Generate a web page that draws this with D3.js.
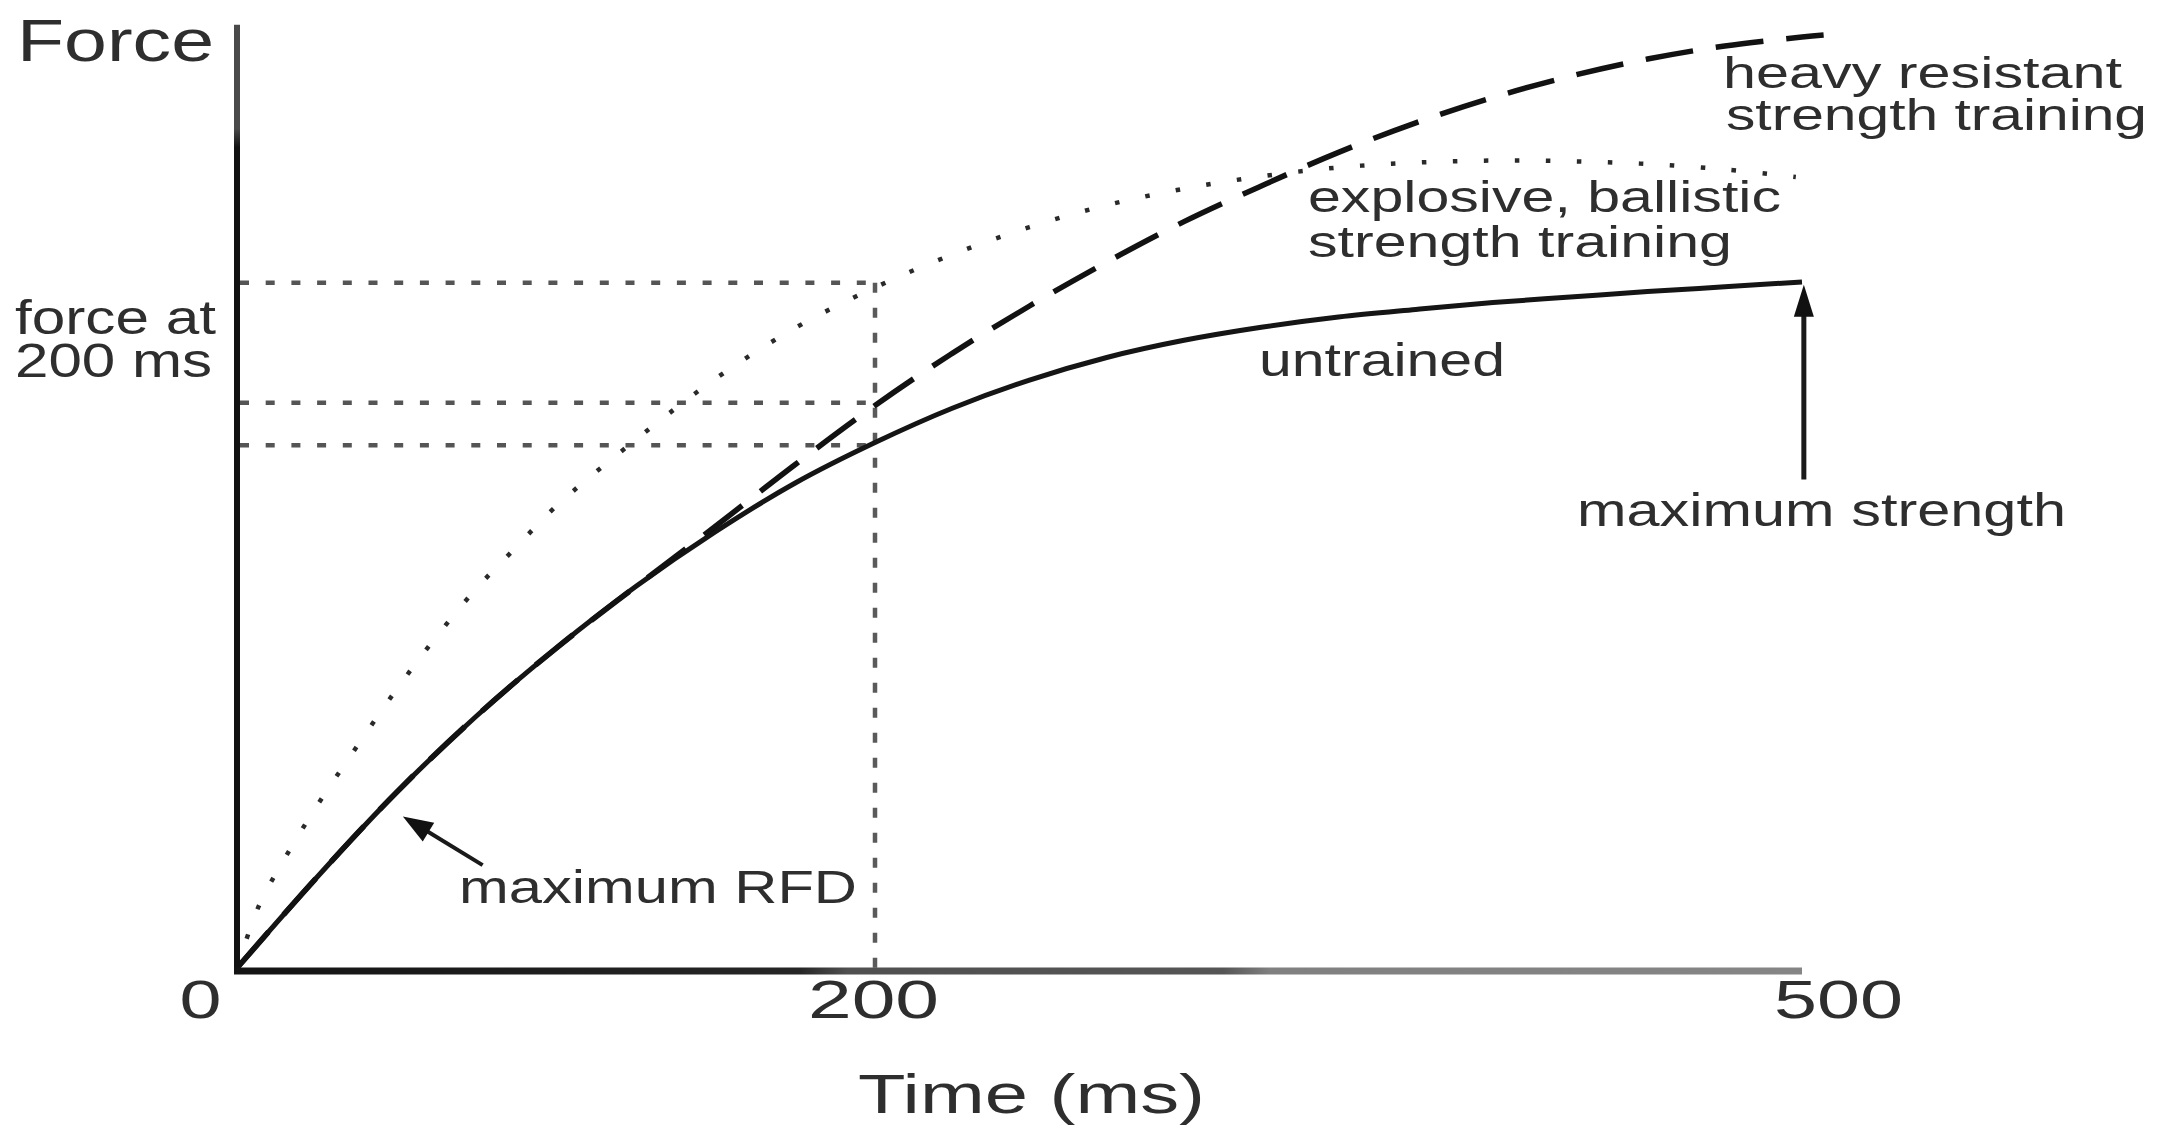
<!DOCTYPE html>
<html><head><meta charset="utf-8">
<script src="https://cdn.jsdelivr.net/npm/d3@7"></script>
<style>html,body{margin:0;padding:0;background:#fff;overflow:hidden}</style>
</head><body>
<svg id="chart"></svg>
<script>
// ---------- data (time in ms, force in % of untrained maximum strength) ----------
const untrainedT = [0, 25, 50, 75, 100, 125, 150, 175, 200, 225, 250, 275, 300, 325, 350, 375, 400, 425, 450, 475, 500];
const untrainedF = [0, 13.2, 25.6, 36.7, 46.6, 55.6, 63.6, 70.7, 76.6, 81.6, 85.7, 89.0, 91.5, 93.4, 94.9, 96.0, 97.0, 97.8, 98.6, 99.3, 100];

const ballisticT = [0, 7, 15, 25, 37, 50, 62, 75, 87, 100, 125, 150, 175, 200, 225, 250, 275, 300, 325, 350, 375, 400, 425, 450, 475, 498];
const ballisticF = [0, 9.2, 16.0, 23.6, 31.9, 40.6, 48.0, 55.3, 61.1, 67.3, 77.0, 85.9, 93.3, 99.2, 104.0, 108.0, 111.2, 113.6, 115.4, 116.7, 117.4, 117.7, 117.6, 117.2, 116.4, 115.3];

const heavyT = [0, 25, 50, 75, 100, 125, 150, 175, 200, 225, 250, 275, 300, 325, 350, 375, 400, 425, 450, 475, 500, 507];
const heavyF = [0, 13.2, 25.6, 36.7, 46.6, 55.6, 64.4, 73.4, 82.0, 89.6, 96.5, 102.9, 108.8, 114.0, 118.9, 123.2, 126.9, 130.0, 132.5, 134.4, 135.7, 136.0];

const xTicks = [0, 200, 500];
const xTickLabels = ["0", "200", "500"];
const refTime = 200;
const refForces = [99.9, 82.4, 76.2];   // force at 200 ms: ballistic, heavy, untrained
const yAxisMax = 137.5;

const seriesLabels = {
  heavy: ["heavy resistant", "strength training"],
  ballistic: ["explosive, ballistic", "strength training"],
  untrained: ["untrained"]
};
const annotationRFD = {text: "maximum RFD", tipT: 52, tipF: 22.1, tailT: 77, tailF: 15.0};
const annotationMax = {text: "maximum strength", tipT: 500.6, tipF: 99.6, tailT: 500.6, tailF: 71.2};
const yTitle = "Force";
const yRefLabel = ["force at", "200 ms"];
const xTitle = "Time (ms)";

// ---------- layout ----------
const W = 2164, H = 1131;
const svg = d3.select("#chart").attr("width", W).attr("height", H)
  .style("background", "#fff").style("display", "block");

const x = d3.scaleLinear().domain([0, 200, 500]).range([237, 875, 1802]);
const y = d3.scaleLinear().domain([0, 100]).range([968, 282]);

const FONT = "'Liberation Sans', Arial, Helvetica, sans-serif";
const TXT = "#2e2e2e";

const defs = svg.append("defs");
const gx = defs.append("linearGradient").attr("id", "xaxisGrad")
  .attr("gradientUnits", "userSpaceOnUse").attr("x1", x(0)).attr("x2", x(500)).attr("y1", 0).attr("y2", 0);
[[0, "#141414"], [0.36, "#262626"], [0.39, "#505050"], [0.63, "#555"], [0.66, "#808080"], [1, "#858585"]]
  .forEach(([o, c]) => gx.append("stop").attr("offset", o).attr("stop-color", c));
const gy = defs.append("linearGradient").attr("id", "yaxisGrad")
  .attr("gradientUnits", "userSpaceOnUse").attr("x1", 0).attr("x2", 0).attr("y1", y(yAxisMax)).attr("y2", y(0));
[[0, "#4a4a4a"], [0.11, "#4a4a4a"], [0.13, "#111"], [1, "#111"]]
  .forEach(([o, c]) => gy.append("stop").attr("offset", o).attr("stop-color", c));

// one <text> per label; each line is a tspan stretched to the reference width
function label(lines, px, baselines, size, lens, anchor) {
  const t = svg.append("text")
    .attr("font-family", FONT).attr("font-size", size).attr("fill", TXT)
    .attr("text-anchor", anchor || "start");
  lines.forEach((s, i) => {
    t.append("tspan").attr("x", Array.isArray(px) ? px[i] : px).attr("y", baselines[i])
      .attr("textLength", lens[i]).attr("lengthAdjust", "spacingAndGlyphs").text(s);
  });
}

// ---------- reference lines ----------
const refG = svg.append("g");
refForces.forEach(f => {
  refG.append("line").attr("x1", x(0) + 3).attr("x2", x(refTime)).attr("y1", y(f)).attr("y2", y(f))
    .attr("stroke", "#555").attr("stroke-width", 4.5).attr("stroke-dasharray", "9,16.7");
});
refG.append("line").attr("x1", x(refTime)).attr("x2", x(refTime))
  .attr("y1", y(d3.max(refForces))).attr("y2", y(0))
  .attr("stroke", "#5a5a5a").attr("stroke-width", 4.5).attr("stroke-dasharray", "10,15");

// ---------- curves ----------
const line = d3.line().x(d => x(d.t)).y(d => y(d.f)).curve(d3.curveCatmullRom.alpha(0.5));
const zip = (T, F) => T.map((t, i) => ({t, f: F[i]}));

svg.append("path").datum(zip(ballisticT, ballisticF)).attr("d", line)
  .attr("fill", "none").attr("stroke", "#2a2a2a").attr("stroke-width", 4.5)
  .attr("stroke-dasharray", "4.5,26.5");

svg.append("path").datum(zip(untrainedT, untrainedF)).attr("d", line)
  .attr("fill", "none").attr("stroke", "#151515").attr("stroke-width", 5);

svg.append("path").datum(zip(heavyT, heavyF)).attr("d", line)
  .attr("fill", "none").attr("stroke", "#121212").attr("stroke-width", 5.5)
  .attr("stroke-dasharray", "48,23");

// ---------- axes ----------
svg.append("line").attr("x1", x(0)).attr("x2", x(0)).attr("y1", y(yAxisMax)).attr("y2", y(0) + 6)
  .attr("stroke", "url(#yaxisGrad)").attr("stroke-width", 6);
svg.append("line").attr("x1", x(0) - 3).attr("x2", x(500)).attr("y1", y(0) + 3).attr("y2", y(0) + 3)
  .attr("stroke", "url(#xaxisGrad)").attr("stroke-width", 7);

const xAxis = d3.axisBottom(x).tickValues(xTicks).tickSize(0).tickFormat((d, i) => xTickLabels[i]);
const xg = svg.append("g").attr("transform", `translate(0,${y(0)})`).call(xAxis);
xg.select(".domain").remove();
const tickShift = [-37, -2, 36];
const tickLen = [42, 131, 129];
xg.selectAll(".tick text")
  .attr("font-family", FONT).attr("font-size", 53).attr("fill", TXT)
  .attr("dy", null).attr("y", 50)
  .attr("dx", (d, i) => tickShift[i])
  .attr("textLength", (d, i) => tickLen[i]).attr("lengthAdjust", "spacingAndGlyphs");

// ---------- texts ----------
label([yTitle], 17, [61], 60, [197]);
label(yRefLabel, 15, [334, 377], 48, [201, 197]);
label([xTitle], 858, [1113], 56, [347]);

label(seriesLabels.heavy, [1723, 1726], [88, 130], 45, [399, 421]);
label(seriesLabels.ballistic, 1308, [212, 257], 44, [473, 424]);
label(seriesLabels.untrained, 1259, [376], 46, [246]);

label([annotationMax.text], 1577, [526], 46, [489]);
label([annotationRFD.text], 459, [903], 46, [398]);

// ---------- arrows ----------
function arrow(a, width, headLen, headHalf) {
  const tx = x(a.tipT), ty = y(a.tipF), sx = x(a.tailT), sy = y(a.tailF);
  const dx = tx - sx, dy = ty - sy, L = Math.hypot(dx, dy);
  const ux = dx / L, uy = dy / L, px = -uy, py = ux;
  const bx = tx - ux * headLen, by = ty - uy * headLen;
  svg.append("line").attr("x1", sx).attr("y1", sy).attr("x2", bx + ux * 2).attr("y2", by + uy * 2)
    .attr("stroke", "#1a1a1a").attr("stroke-width", width);
  svg.append("path")
    .attr("d", `M${tx},${ty}L${bx + px * headHalf},${by + py * headHalf}L${bx - px * headHalf},${by - py * headHalf}Z`)
    .attr("fill", "#111");
}
arrow(annotationRFD, 4, 30, 11);
arrow(annotationMax, 5, 32, 10);
</script>
</body></html>
